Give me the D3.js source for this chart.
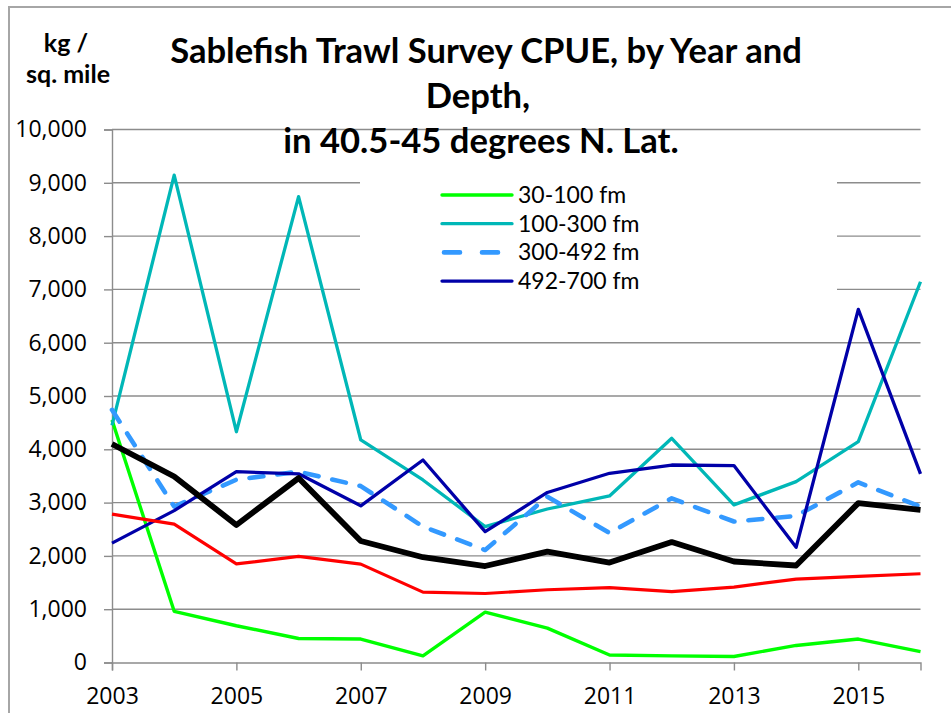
<!DOCTYPE html>
<html>
<head>
<meta charset="utf-8">
<script src="https://cdn.jsdelivr.net/npm/d3@7"></script>
<style>
  body { margin: 0; background: #fff; }
  svg { display: block; }
</style>
</head>
<body>
<div id="chart"></div>
<script>
// Survey years
const years = [2003, 2004, 2005, 2006, 2007, 2008, 2009, 2010, 2011, 2012, 2013, 2014, 2015, 2016];
const xTickYears = [2003, 2005, 2007, 2009, 2011, 2013, 2015];
const yTicks = [0, 1000, 2000, 3000, 4000, 5000, 6000, 7000, 8000, 9000, 10000];

// CPUE (kg / sq. mile) by depth band
const depth30to100 = [4550, 960, 690, 450, 440, 125, 945, 645, 140, 125, 113, 320, 440, 205];
const depth100to300 = [4450, 9145, 4330, 8740, 4175, 3425, 2550, 2880, 3125, 4207, 2957, 3394, 4144, 7144];
const depth300to492 = [4740, 2925, 3430, 3580, 3310, 2550, 2110, 3110, 2430, 3080, 2645, 2750, 3380, 2925];
const depth492to700 = [2240, 2850, 3580, 3540, 2940, 3800, 2455, 3190, 3550, 3705, 3695, 2160, 6625, 3540];
// two unlabeled series (no legend entry)
const redSeries = [2785, 2595, 1850, 1990, 1845, 1320, 1295, 1365, 1405, 1330, 1415, 1565, 1615, 1665];
const blackSeries = [4100, 3490, 2580, 3460, 2280, 1975, 1810, 2080, 1875, 2260, 1895, 1820, 2990, 2865];

const legendNames = ["30-100 fm", "100-300 fm", "300-492 fm", "492-700 fm"];

const series = [
  { name: legendNames[0], values: depth30to100, color: "#00ff00", width: 3.4 },
  { name: legendNames[1], values: depth100to300, color: "#00b7b7", width: 3.3 },
  { name: legendNames[2], values: depth300to492, color: "#3399ff", width: 4.6, dash: "14,14" },
  { name: legendNames[3], values: depth492to700, color: "#0000a8", width: 3.3 },
  { name: null, values: redSeries, color: "#ff0000", width: 3.2 },
  { name: null, values: blackSeries, color: "#000000", width: 5.8 }
];

const totalWidth = 951, totalHeight = 713;
const margin = { top: 129.5, left: 112, right: 30.5, bottom: 50.5 };
const wSvg = totalWidth - margin.left - margin.right;
const hSvg = totalHeight - margin.top - margin.bottom;

const svg = d3.select("#chart")
  .append("svg")
  .attr("width", totalWidth)
  .attr("height", totalHeight);

// Outer chart border (runs off the right / bottom of the picture)
svg.append("rect")
  .attr("x", 9).attr("y", 7)
  .attr("width", 1000).attr("height", 1000)
  .attr("fill", "none")
  .attr("stroke", "#a6a6a6")
  .attr("stroke-width", 2);

const g = svg.append("g")
  .attr("transform", `translate(${margin.left},${margin.top})`);

// Scales
const xScale = d3.scaleLinear()
  .domain([2003, 2016])
  .range([0, wSvg]);

const yScale = d3.scaleLinear()
  .domain([0, 10000])
  .range([hSvg, 0]);

const gray = "#8c8c8c";
const tickFont = "'Open Sans', sans-serif";

// Gridlines
g.append("g")
  .selectAll("line")
  .data(yTicks.slice(1))
  .enter()
  .append("line")
  .attr("x1", 0).attr("x2", wSvg)
  .attr("y1", d => yScale(d)).attr("y2", d => yScale(d))
  .attr("stroke", gray)
  .attr("stroke-width", 1.4);

// Y axis
const yAxis = d3.axisLeft(yScale)
  .tickValues(yTicks)
  .tickSize(8)
  .tickPadding(17)
  .tickFormat(d3.format(","));
g.append("g")
  .call(yAxis)
  .call(s => s.selectAll("path, line").attr("stroke", gray).attr("stroke-width", 1.4))
  .call(s => s.selectAll("text")
    .attr("fill", "#000")
    .style("font-family", tickFont)
    .style("font-size", "23px"));

// X axis
const xAxis = d3.axisBottom(xScale)
  .tickValues(xTickYears)
  .tickSize(8)
  .tickPadding(17)
  .tickFormat(d3.format("d"));
g.append("g")
  .attr("transform", `translate(0,${hSvg})`)
  .call(xAxis)
  .call(s => s.selectAll("path, line").attr("stroke", gray).attr("stroke-width", 1.4))
  .call(s => s.selectAll("text")
    .attr("fill", "#000")
    .style("font-family", tickFont)
    .style("font-size", "23px"));

// Legend background hides gridlines behind it
g.append("rect")
  .attr("x", 360 - margin.left)
  .attr("y", 165 - margin.top)
  .attr("width", 837 - 360)
  .attr("height", 145)
  .attr("fill", "#fff");

// Line generator
const line = d3.line()
  .x((d, i) => xScale(years[i]))
  .y(d => yScale(d));

series.forEach(s => {
  g.append("path")
    .attr("fill", "none")
    .attr("stroke", s.color)
    .attr("stroke-width", s.width)
    .attr("stroke-linejoin", "round")
    .attr("stroke-linecap", s.dash ? "round" : "butt")
    .attr("stroke-dasharray", s.dash || null)
    .attr("d", line(s.values));
});

// Legend (Lato keeps the rows from overlapping at this size)
const legend = svg.append("g")
  .attr("transform", "translate(442,195)");
series.filter(s => s.name).forEach((s, i) => {
  const row = legend.append("g").attr("transform", `translate(0,${i * 28.7})`);
  row.append("line")
    .attr("x1", s.dash ? 2 : 0)
    .attr("x2", s.dash ? 56 : 70)
    .attr("stroke", s.color)
    .attr("stroke-width", s.width)
    .attr("stroke-linecap", "round")
    .attr("stroke-dasharray", s.dash ? "16,22" : null);
  row.append("text")
    .attr("x", 76)
    .attr("y", 8)
    .style("font-family", "Lato, sans-serif")
    .style("font-size", "23px")
    .text(s.name);
});

// Title (three lines, fitted to the width of the first line)
const titleFont = "Lato, 'Open Sans', sans-serif";
const titleLines = [
  { text: "Sablefish Trawl Survey CPUE, by Year and", cx: 486, y: 63 },
  { text: "Depth,", cx: 478, y: 108 },
  { text: "in 40.5-45 degrees N. Lat.", cx: 481, y: 153 }
];
const titleText = svg.append("g").selectAll("text")
  .data(titleLines)
  .enter()
  .append("text")
  .attr("x", d => d.cx)
  .attr("y", d => d.y)
  .attr("text-anchor", "middle")
  .style("font-family", titleFont)
  .style("font-weight", "bold")
  .style("font-size", "36px")
  .text(d => d.text);
const firstW = titleText.nodes()[0].getComputedTextLength();
titleText.style("font-size", (36 * 632 / firstW).toFixed(1) + "px");

// Unit label
const unitLines = [
  { text: "kg /", cx: 66, y: 52 },
  { text: "sq. mile", cx: 68, y: 83 }
];
const unitText = svg.append("g").selectAll("text")
  .data(unitLines)
  .enter()
  .append("text")
  .attr("x", d => d.cx)
  .attr("y", d => d.y)
  .attr("text-anchor", "middle")
  .style("font-family", titleFont)
  .style("font-weight", "bold")
  .style("font-size", "24px")
  .text(d => d.text);
const unitW = unitText.nodes()[1].getComputedTextLength();
unitText.style("font-size", (24 * 84 / unitW).toFixed(1) + "px");
</script>
</body>
</html>
